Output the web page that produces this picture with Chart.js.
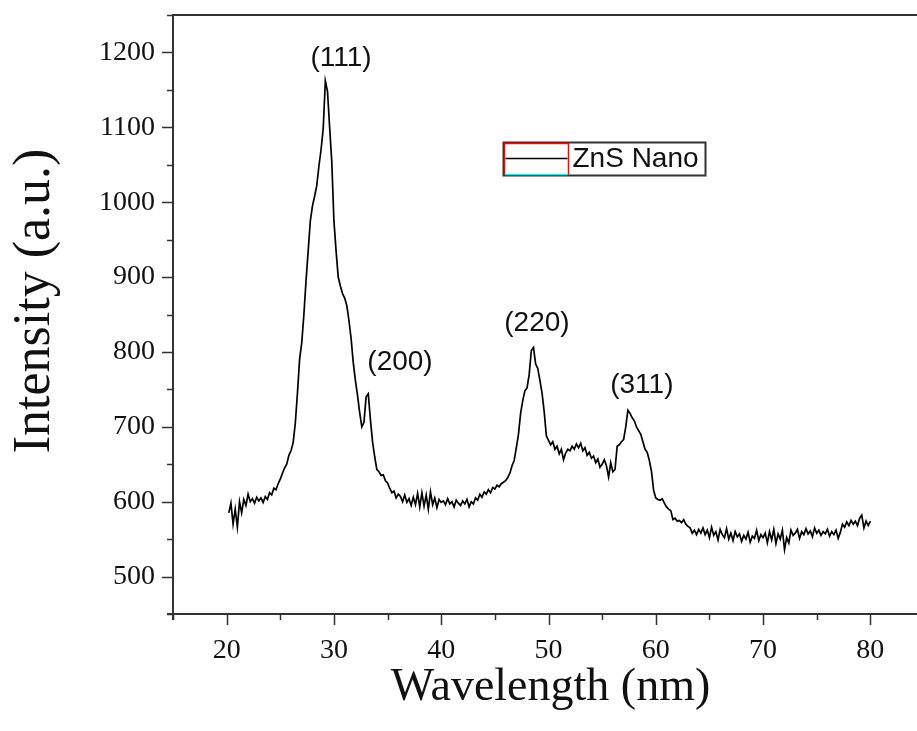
<!DOCTYPE html>
<html>
<head>
<meta charset="utf-8">
<title>ZnS Nano - XRD</title>
<script src="https://cdn.jsdelivr.net/npm/chart.js@4.4.1/dist/chart.umd.min.js"></script>
<style>
  html, body { margin: 0; padding: 0; background: #fff; overflow: hidden; }
  #wrap { width: 940px; height: 731px; }
</style>
</head>
<body>
<div id="wrap"><canvas id="xrd" width="940" height="731"></canvas></div>
<script>
(function () {
  'use strict';

  /* scan positions */
  var wavelength = [
    20.2, 20.4, 20.6, 20.8, 21.0, 21.2, 21.4, 21.6, 21.8, 22.0,
    22.2, 22.4, 22.6, 22.8, 23.0, 23.2, 23.4, 23.6, 23.8, 24.0,
    24.2, 24.4, 24.6, 24.8, 25.0, 25.2, 25.4, 25.6, 25.8, 26.0,
    26.2, 26.4, 26.6, 26.8, 27.0, 27.2, 27.4, 27.6, 27.8, 28.0,
    28.2, 28.4, 28.6, 28.8, 29.0, 29.2, 29.4, 29.6, 29.8, 30.0,
    30.2, 30.4, 30.6, 30.8, 31.0, 31.2, 31.4, 31.6, 31.8, 32.0,
    32.2, 32.4, 32.6, 32.8, 33.0, 33.2, 33.4, 33.6, 33.8, 34.0,
    34.2, 34.4, 34.6, 34.8, 35.0, 35.2, 35.4, 35.6, 35.8, 36.0,
    36.2, 36.4, 36.6, 36.8, 37.0, 37.2, 37.4, 37.6, 37.8, 38.0,
    38.2, 38.4, 38.6, 38.8, 39.0, 39.2, 39.4, 39.6, 39.8, 40.0,
    40.2, 40.4, 40.6, 40.8, 41.0, 41.2, 41.4, 41.6, 41.8, 42.0,
    42.2, 42.4, 42.6, 42.8, 43.0, 43.2, 43.4, 43.6, 43.8, 44.0,
    44.2, 44.4, 44.6, 44.8, 45.0, 45.2, 45.4, 45.6, 45.8, 46.0,
    46.2, 46.4, 46.6, 46.8, 47.0, 47.2, 47.4, 47.6, 47.8, 48.0,
    48.2, 48.4, 48.6, 48.8, 49.0, 49.2, 49.4, 49.6, 49.8, 50.0,
    50.2, 50.4, 50.6, 50.8, 51.0, 51.2, 51.4, 51.6, 51.8, 52.0,
    52.2, 52.4, 52.6, 52.8, 53.0, 53.2, 53.4, 53.6, 53.8, 54.0,
    54.2, 54.4, 54.6, 54.8, 55.0, 55.2, 55.4, 55.6, 55.8, 56.0,
    56.2, 56.4, 56.6, 56.8, 57.0, 57.2, 57.4, 57.6, 57.8, 58.0,
    58.2, 58.4, 58.6, 58.8, 59.0, 59.2, 59.4, 59.6, 59.8, 60.0,
    60.2, 60.4, 60.6, 60.8, 61.0, 61.2, 61.4, 61.6, 61.8, 62.0,
    62.2, 62.4, 62.6, 62.8, 63.0, 63.2, 63.4, 63.6, 63.8, 64.0,
    64.2, 64.4, 64.6, 64.8, 65.0, 65.2, 65.4, 65.6, 65.8, 66.0,
    66.2, 66.4, 66.6, 66.8, 67.0, 67.2, 67.4, 67.6, 67.8, 68.0,
    68.2, 68.4, 68.6, 68.8, 69.0, 69.2, 69.4, 69.6, 69.8, 70.0,
    70.2, 70.4, 70.6, 70.8, 71.0, 71.2, 71.4, 71.6, 71.8, 72.0,
    72.2, 72.4, 72.6, 72.8, 73.0, 73.2, 73.4, 73.6, 73.8, 74.0,
    74.2, 74.4, 74.6, 74.8, 75.0, 75.2, 75.4, 75.6, 75.8, 76.0,
    76.2, 76.4, 76.6, 76.8, 77.0, 77.2, 77.4, 77.6, 77.8, 78.0,
    78.2, 78.4, 78.6, 78.8, 79.0, 79.2, 79.4, 79.6, 79.8, 80.0
  ];

  /* intensity, one row per 2 nm */
  var intensity = [
    585, 598, 570, 590, 566, 600, 585, 603, 595, 610,
    600, 604, 598, 606, 601, 605, 599, 607, 603, 612,
    609, 618, 616, 624, 630, 638, 645, 650, 662, 668,
    679, 705, 745, 790, 812, 850, 895, 935, 975, 995,
    1008, 1022, 1048, 1070, 1098, 1162, 1148, 1100, 1054, 975,
    935, 900, 888, 878, 872, 862, 842, 818, 786, 762,
    742, 719, 700, 706, 740, 744, 710, 680, 660, 643,
    640, 635, 636, 628, 625, 618, 612, 614, 605, 610,
    607, 600, 609, 599, 604, 595, 606, 596, 611, 593,
    612, 594, 609, 590, 613, 596, 605, 592, 603, 599,
    601, 596, 604, 597, 600, 593, 602, 598, 595, 601,
    597, 603, 593, 600, 597, 605, 602, 610, 606, 613,
    610, 616, 612, 619, 617, 622, 620, 624, 626, 628,
    632, 638, 648, 655, 672, 690, 718, 735, 748, 752,
    770, 802, 806, 784, 778, 762, 745, 720, 688, 682,
    676, 680, 670, 674, 664, 670, 656, 665, 670, 668,
    674, 670, 677, 672, 678, 668, 672, 662, 666, 658,
    661, 652, 657, 646, 650, 656, 648, 633, 652, 640,
    643, 674, 676, 680, 683, 700, 722, 718, 712, 708,
    700, 695, 690, 680, 670, 666, 655, 640, 615, 605,
    603, 602, 604, 598, 593, 590, 588, 576, 578, 574,
    575, 572, 576, 570, 567, 565, 558, 562, 556, 563,
    558, 565, 556, 562, 552, 566, 555, 560, 549, 563,
    556, 552, 564, 550, 558, 548, 560, 553, 557, 547,
    555, 550, 559, 546, 554, 551, 562, 548, 556, 552,
    558, 545, 560, 549, 563, 544, 557, 550, 562, 536,
    552, 545, 562, 555, 558, 563, 551, 560, 556, 564,
    557, 561, 553, 565, 558, 562, 555, 560, 557, 563,
    554, 560, 556, 562, 551, 559, 570, 566, 573, 568,
    575, 570, 574, 568, 578, 582, 565, 574, 568, 574
  ];

  var xTickLabels = [20, 30, 40, 50, 60, 70, 80];
  var yTickLabels = [500, 600, 700, 800, 900, 1000, 1100, 1200];
  var peakNames = ['(111)', '(200)', '(220)', '(311)'];
  var seriesName = 'ZnS Nano';

  var AXIS = '#333';
  var INK = '#111';
  var SERIF = "'Liberation Serif', 'Times New Roman', serif";
  var SANS = "'Liberation Sans', Arial, sans-serif";

  /* frame, tick marks, axis titles, peak notes and the boxed legend */
  var decorations = {
    id: 'decorations',
    afterDraw: function (chart, args, opts) {
      var ctx = chart.ctx;
      var a = chart.chartArea;
      var x = chart.scales.x;
      var y = chart.scales.y;
      ctx.save();

      ctx.strokeStyle = AXIS;
      ctx.lineWidth = 2;
      ctx.beginPath();
      ctx.moveTo(a.left - 6, a.bottom);
      ctx.lineTo(a.right, a.bottom);
      ctx.moveTo(a.left, a.bottom + 6);
      ctx.lineTo(a.left, a.top);
      ctx.lineTo(a.right, a.top);
      ctx.stroke();

      ctx.lineWidth = 1.5;
      ctx.beginPath();
      x.ticks.forEach(function (t) {
        var px = Math.round(x.getPixelForValue(t.value)) + 0.5;
        var len = t.value % 10 === 0 ? 11 : 6;
        ctx.moveTo(px, a.bottom);
        ctx.lineTo(px, a.bottom + len);
      });
      y.ticks.forEach(function (t) {
        var py = Math.round(y.getPixelForValue(t.value)) + 0.5;
        var len = t.value % 100 === 0 ? 11 : 6;
        ctx.moveTo(a.left, py);
        ctx.lineTo(a.left - len, py);
      });
      ctx.stroke();

      // axis titles
      ctx.fillStyle = INK;
      ctx.textAlign = 'center';
      ctx.textBaseline = 'middle';
      ctx.font = '46px ' + SERIF;
      ctx.fillText(opts.xTitle, (a.left + a.right) / 2 + 2, 688);
      ctx.save();
      ctx.translate(35, 301);
      ctx.rotate(-Math.PI / 2);
      ctx.font = '52px ' + SERIF;
      ctx.fillText(opts.yTitle, 0, 0);
      ctx.restore();

      // peak labels
      ctx.font = '28px ' + SANS;
      opts.peaks.forEach(function (p, i) {
        ctx.fillText(peakNames[i], x.getPixelForValue(p.x), y.getPixelForValue(p.y));
      });

      // legend box
      var lx = Math.round(x.getPixelForValue(opts.legendAt.x)) + 0.5;
      var ly = Math.round(y.getPixelForValue(opts.legendAt.y)) + 0.5;
      var w = 202, h = 33, sw = 65;
      ctx.lineWidth = 2;
      ctx.strokeStyle = AXIS;
      ctx.strokeRect(lx, ly, w, h);
      ctx.lineWidth = 1.5;
      ctx.strokeStyle = '#ff0000';
      ctx.beginPath();
      ctx.moveTo(lx + 1, ly + h - 1);
      ctx.lineTo(lx + 1, ly + 1);
      ctx.lineTo(lx + sw, ly + 1);
      ctx.lineTo(lx + sw, ly + h - 1);
      ctx.stroke();
      ctx.strokeStyle = '#00ffff';
      ctx.beginPath();
      ctx.moveTo(lx + 2, ly + h - 1);
      ctx.lineTo(lx + sw - 1, ly + h - 1);
      ctx.stroke();
      ctx.strokeStyle = '#000';
      ctx.lineWidth = 1.5;
      ctx.beginPath();
      ctx.moveTo(lx + 2, ly + 16);
      ctx.lineTo(lx + sw - 1, ly + 16);
      ctx.stroke();
      ctx.fillStyle = INK;
      ctx.textAlign = 'left';
      ctx.font = '28px ' + SANS;
      ctx.fillText(seriesName, lx + sw + 4, ly + 17);

      ctx.restore();
    }
  };

  function trimPadding(s) {
    s.paddingTop = 0;
    s.paddingBottom = 0;
    s.paddingLeft = 0;
    s.paddingRight = 0;
  }

  var points = wavelength.map(function (v, i) {
    return { x: v, y: intensity[i] };
  });

  new Chart(document.getElementById('xrd'), {
    type: 'line',
    data: {
      datasets: [{
        label: seriesName,
        data: points,
        borderColor: '#000',
        borderWidth: 1.7,
        pointRadius: 0,
        tension: 0,
        fill: false
      }]
    },
    options: {
      responsive: false,
      animation: false,
      devicePixelRatio: 1,
      layout: { padding: { top: 15, right: 16, left: 0, bottom: 0 } },
      plugins: {
        legend: { display: false },
        tooltip: { enabled: false },
        decorations: {
          xTitle: 'Wavelength (nm)',
          yTitle: 'Intensity (a.u.)',
          peaks: [
            { x: 30.66, y: 1192 },
            { x: 36.16, y: 786 },
            { x: 48.92, y: 838 },
            { x: 58.7, y: 755 }
          ],
          legendAt: { x: 45.75, y: 1081 }
        }
      },
      scales: {
        x: {
          type: 'linear',
          min: 15,
          max: 85,
          grid: { display: false, drawTicks: false },
          border: { display: false },
          afterFit: function (s) { s.height = 117; trimPadding(s); },
          ticks: {
            stepSize: 5,
            autoSkip: false,
            maxRotation: 0,
            padding: 20,
            color: INK,
            font: { family: SERIF, size: 28 },
            callback: function (v) { return xTickLabels.indexOf(v) >= 0 ? String(v) : ''; }
          }
        },
        y: {
          min: 450,
          max: 1250,
          grid: { display: false, drawTicks: false },
          border: { display: false },
          afterFit: function (s) { s.width = 173; trimPadding(s); },
          ticks: {
            stepSize: 50,
            autoSkip: false,
            padding: 18,
            color: INK,
            font: { family: SERIF, size: 28 },
            callback: function (v) { return yTickLabels.indexOf(v) >= 0 ? String(v) : ''; }
          }
        }
      }
    },
    plugins: [decorations]
  });
})();
</script>
</body>
</html>
